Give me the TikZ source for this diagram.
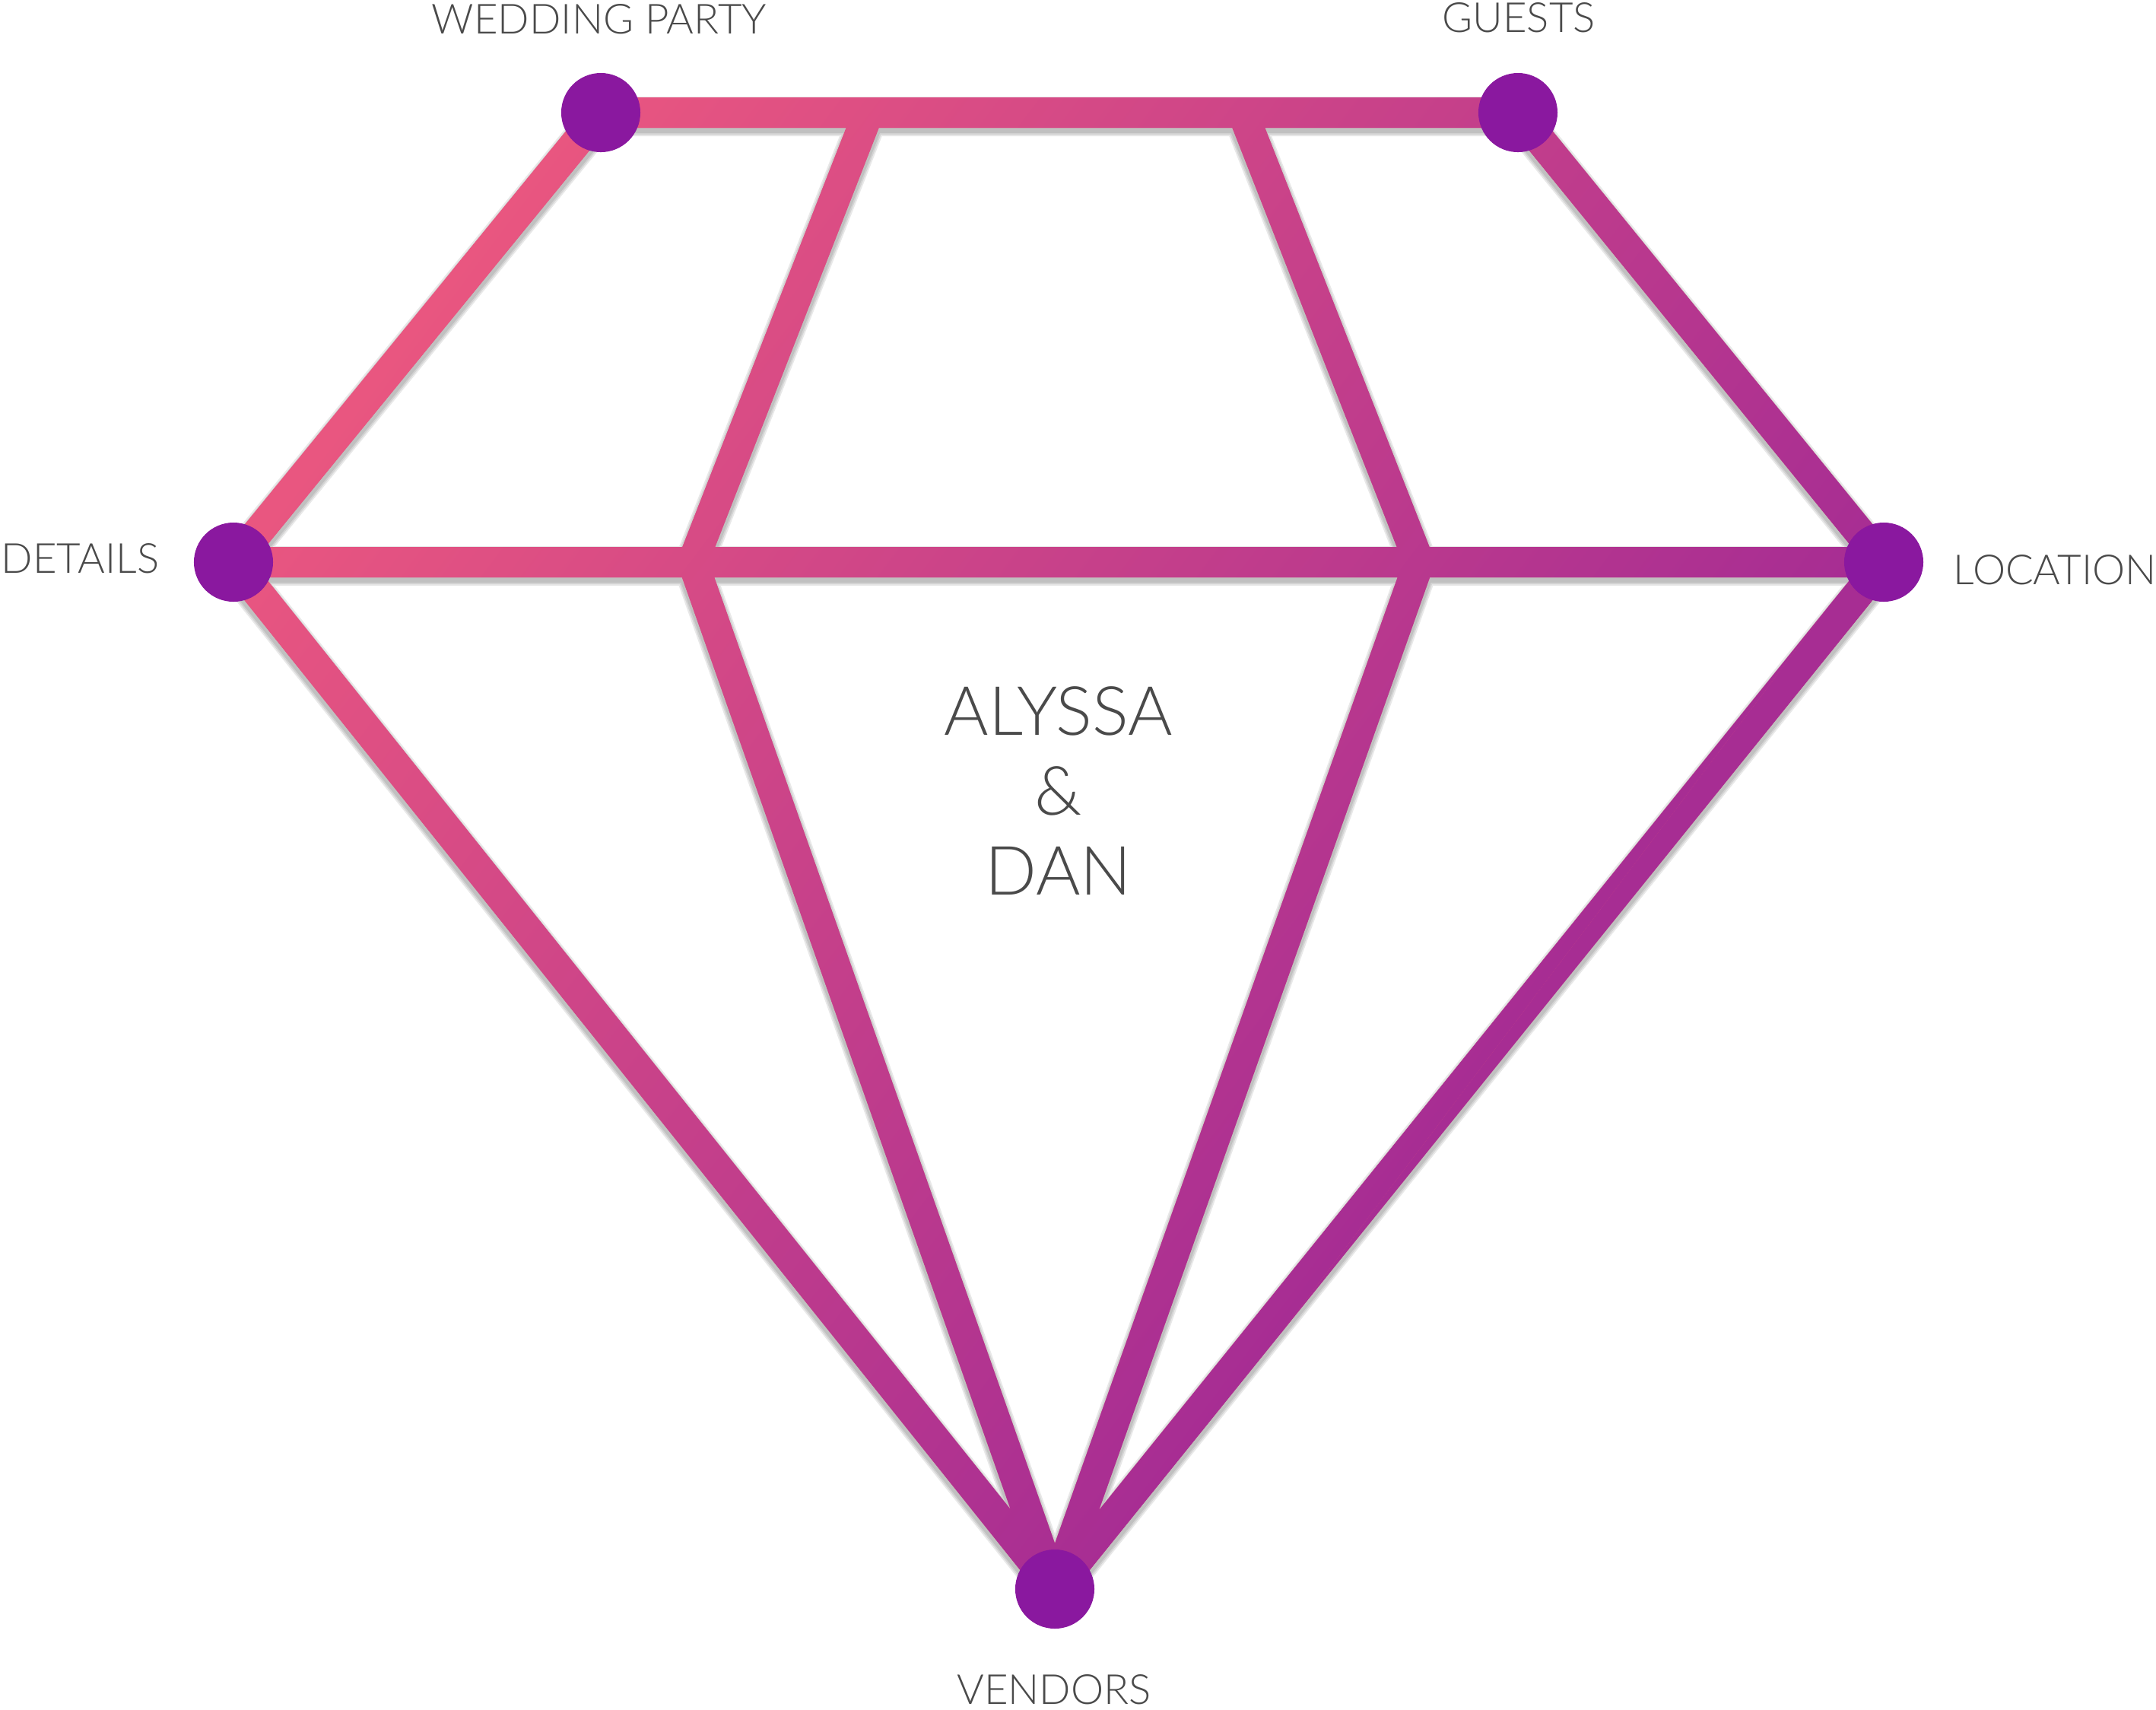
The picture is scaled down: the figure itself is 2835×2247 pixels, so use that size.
\documentclass[tikz,border=0pt]{standalone}
\usepackage{fontspec}
\setmainfont{Lato Light}
\usepackage{xcolor}
\usepackage{tikz}
\usetikzlibrary{calc,backgrounds}
\definecolor{gempink}{RGB}{233, 86, 128}
\definecolor{gempurple}{RGB}{167, 45, 147}
\definecolor{gemdot}{RGB}{138, 24, 159}
\definecolor{gemtext}{RGB}{74, 74, 74}
\newcommand{\halfw}{0.2cm}
\newcommand{\ribbon}[2]{($(#1)!\halfw!90:(#2)$) -- ($(#2)!\halfw!-90:(#1)$) -- ($(#2)!\halfw!90:(#1)$) -- ($(#1)!\halfw!-90:(#2)$) -- cycle}

\begin{document}
\begin{tikzpicture}[x=0.01cm, y=-0.01cm,
  dot/.style={circle, fill=gemdot, minimum size=1.04cm, inner sep=0pt},
  lbl/.style={text=gemtext, inner sep=0pt, font=\fontsize{15.5}{18}\selectfont},
  couple/.style={text=gemtext, inner sep=0pt, font=\fontsize{25.4}{30}\selectfont},
  shadowline/.style={draw=black, line join=round, opacity=0.09}]
\useasboundingbox (0,0) rectangle (2835,2247);

% corner dots
\node[dot] (wp) at (790,148) {};
\node[dot] (guests) at (1996,148) {};
\node[dot] (details) at (307,739) {};
\node[dot] (location) at (2477,739) {};
\node[dot] (vendors) at (1387,2089) {};

% inner bends
\coordinate (tl) at (1142,148);
\coordinate (tr) at (1634,148);
\coordinate (ml) at (911,739);
\coordinate (mr) at (1866,739);

% labels
\node[lbl, anchor=base] (wplab) at (788,44) {WEDDING PARTY};
\node[lbl, anchor=base] (guestlab) at (1997,42) {GUESTS};
\node[lbl, anchor=base east] (detlab) at (210,753) {DETAILS};
\node[lbl, anchor=base west] (loclab) at (2568,768) {LOCATION};
\node[lbl, anchor=base] (venlab) at (1386,2240) {VENDORS};

% names in the middle
\node[couple, anchor=base] (bride) at (1392,966) {ALYSSA};
\node[couple, anchor=base] (amp) at (1392,1071) {\&};
\node[couple, anchor=base] (groom) at (1392,1176) {DAN};

\begin{pgfonlayer}{background}
  % soft shadow
  \foreach \w in {0.52cm,0.48cm,0.44cm}
    \draw[shadowline, line width=\w, transform canvas={yshift=-0.05cm}]
      (details.center) -- (wp.center) -- (guests.center) -- (location.center)
      -- (vendors.center) -- cycle
      (details.center) -- (location.center)
      (tl) -- (ml) -- (vendors.center) -- (mr) -- (tr);
  % gradient bars
  \begin{scope}
    \clip \foreach \a/\b in {wp/guests, details/wp, guests/location, details/location,
      tl/ml, ml/vendors, tr/mr, mr/vendors, details/vendors, location/vendors}
      {\ribbon{\a}{\b}};
    \fill[gempink] (0,0) rectangle (2835,2247);
    \shade[transform canvas={rotate=-37}, left color=gempink, right color=gempurple]
      (689,-4000) rectangle (2400,4000);
    \fill[gempurple, transform canvas={rotate=-37}] (2400,-4000) rectangle (4000,4000);
  \end{scope}
\end{pgfonlayer}
\end{tikzpicture}
\end{document}
